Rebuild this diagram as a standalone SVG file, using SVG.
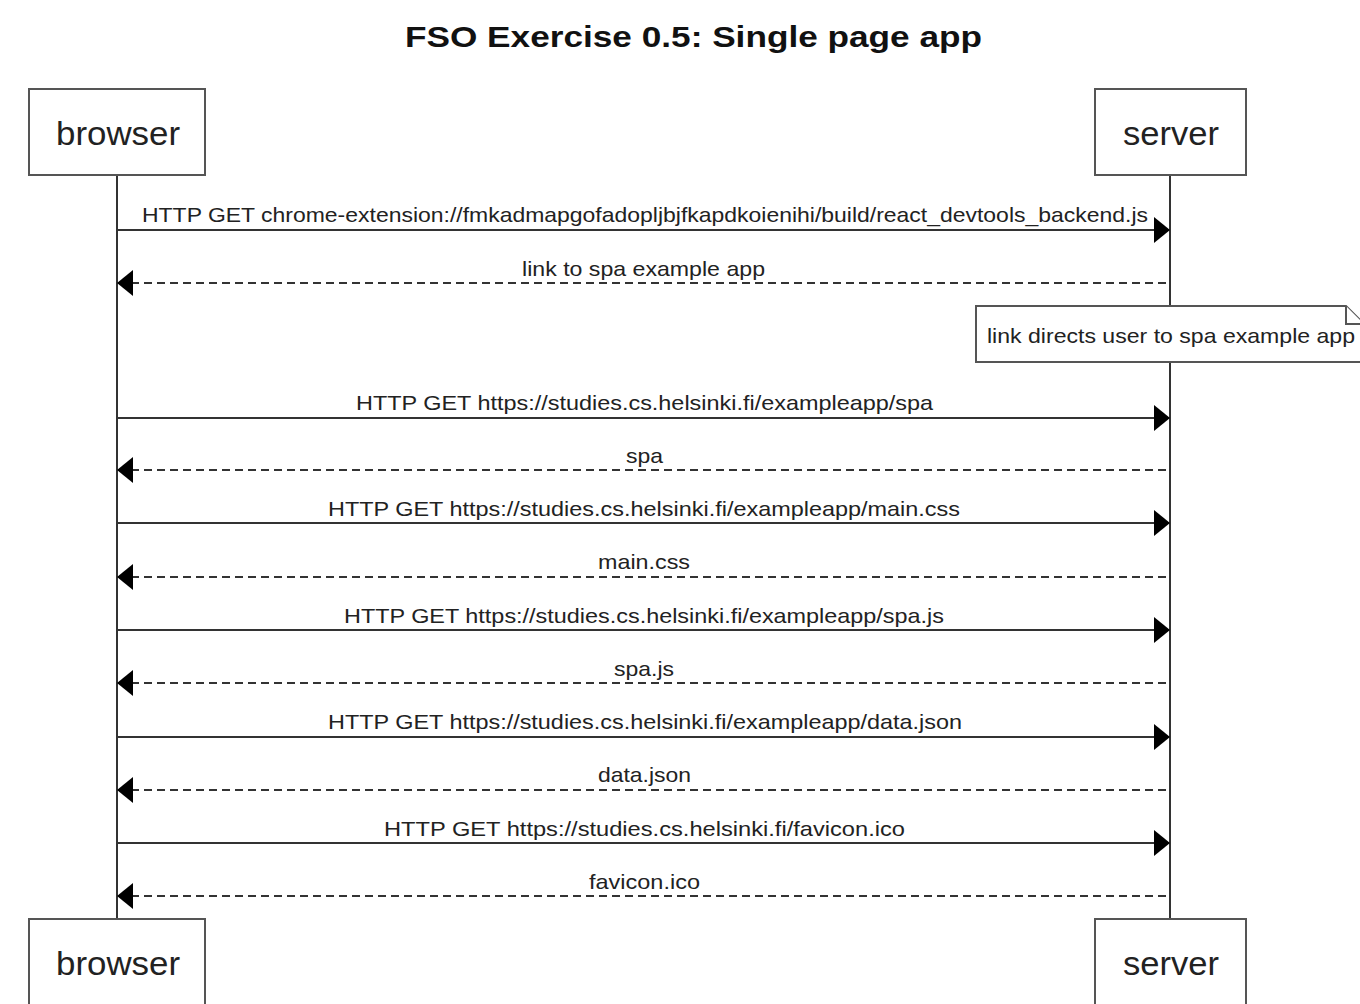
<svg xmlns="http://www.w3.org/2000/svg" width="1360" height="1004" viewBox="0 0 1360 1004">
  <style>
    .actor rect { fill: #ffffff; stroke: #555555; stroke-width: 2; }
    .actor text { font-family: "Liberation Sans", Arial, sans-serif; font-size: 33px; fill: #222222; text-anchor: middle; }
    .life { stroke: #333333; stroke-width: 2; }
    .msg { stroke: #333333; stroke-width: 2; fill: none; }
    .dash { stroke-dasharray: 8 5; }
    .lbl { font-family: "Liberation Sans", Arial, sans-serif; font-size: 21px; fill: #222222; text-anchor: middle; }
    .title { font-family: "Liberation Sans", Arial, sans-serif; font-size: 30px; font-weight: bold; fill: #111111; text-anchor: middle; }
    .note rect, .note path { fill: #ffffff; stroke: #555555; stroke-width: 2; }
  </style>
  <defs>
    <marker id="head" viewBox="0 0 16 26" refX="16" refY="13" markerWidth="16" markerHeight="26" markerUnits="userSpaceOnUse" orient="auto">
      <path d="M0,0 L16,13 L0,26 Z" fill="#000000"/>
    </marker>
  </defs>
  <rect width="1360" height="1004" fill="#ffffff"/>

  <text class="title" x="693.5" y="47" textLength="577" lengthAdjust="spacingAndGlyphs">FSO Exercise 0.5: Single page app</text>

  <!-- lifelines -->
  <g id="lifelines">
    <line class="life" x1="117" y1="175" x2="117" y2="919"/>
    <line class="life" x1="1170" y1="175" x2="1170" y2="919"/>
  </g>

  <!-- participants, top and bottom -->
  <g id="browser-top" class="actor">
    <rect x="29" y="89" width="176" height="86"/>
    <text x="118" y="145" textLength="124" lengthAdjust="spacingAndGlyphs">browser</text>
  </g>
  <g id="server-top" class="actor">
    <rect x="1095" y="89" width="151" height="86"/>
    <text x="1171" y="145" textLength="96" lengthAdjust="spacingAndGlyphs">server</text>
  </g>
  <g id="browser-bottom" class="actor">
    <rect x="29" y="919" width="176" height="86"/>
    <text x="118" y="975" textLength="124" lengthAdjust="spacingAndGlyphs">browser</text>
  </g>
  <g id="server-bottom" class="actor">
    <rect x="1095" y="919" width="151" height="86"/>
    <text x="1171" y="975" textLength="96" lengthAdjust="spacingAndGlyphs">server</text>
  </g>

  <!-- note over server -->
  <g id="note" class="note">
    <path d="M976,306 L1346,306 L1364,324 L1364,362 L976,362 Z"/>
    <path d="M1346,306 L1346,324 L1364,324" fill="none"/>
    <text class="lbl" x="1171" y="343" textLength="368" lengthAdjust="spacingAndGlyphs">link directs user to spa example app</text>
  </g>

  <!-- messages -->
  <g id="connectors">
    <line class="msg" x1="117" y1="230" x2="1170" y2="230" marker-end="url(#head)"/>
    <line class="msg dash" x1="1166" y1="283" x2="117" y2="283" marker-end="url(#head)"/>
    <line class="msg" x1="117" y1="418" x2="1170" y2="418" marker-end="url(#head)"/>
    <line class="msg dash" x1="1166" y1="470" x2="117" y2="470" marker-end="url(#head)"/>
    <line class="msg" x1="117" y1="523" x2="1170" y2="523" marker-end="url(#head)"/>
    <line class="msg dash" x1="1166" y1="577" x2="117" y2="577" marker-end="url(#head)"/>
    <line class="msg" x1="117" y1="630" x2="1170" y2="630" marker-end="url(#head)"/>
    <line class="msg dash" x1="1166" y1="683" x2="117" y2="683" marker-end="url(#head)"/>
    <line class="msg" x1="117" y1="737" x2="1170" y2="737" marker-end="url(#head)"/>
    <line class="msg dash" x1="1166" y1="790" x2="117" y2="790" marker-end="url(#head)"/>
    <line class="msg" x1="117" y1="843" x2="1170" y2="843" marker-end="url(#head)"/>
    <line class="msg dash" x1="1166" y1="896" x2="117" y2="896" marker-end="url(#head)"/>
  </g>

  <g id="labels">
    <text class="lbl" x="645" y="222" textLength="1006" lengthAdjust="spacingAndGlyphs">HTTP GET chrome-extension://fmkadmapgofadopljbjfkapdkoienihi/build/react_devtools_backend.js</text>
    <text class="lbl" x="643.5" y="276" textLength="243" lengthAdjust="spacingAndGlyphs">link to spa example app</text>
    <text class="lbl" x="644.5" y="410" textLength="577" lengthAdjust="spacingAndGlyphs">HTTP GET https://studies.cs.helsinki.fi/exampleapp/spa</text>
    <text class="lbl" x="644.5" y="463" textLength="37" lengthAdjust="spacingAndGlyphs">spa</text>
    <text class="lbl" x="644" y="516" textLength="632" lengthAdjust="spacingAndGlyphs">HTTP GET https://studies.cs.helsinki.fi/exampleapp/main.css</text>
    <text class="lbl" x="644" y="569" textLength="92" lengthAdjust="spacingAndGlyphs">main.css</text>
    <text class="lbl" x="644" y="623" textLength="600" lengthAdjust="spacingAndGlyphs">HTTP GET https://studies.cs.helsinki.fi/exampleapp/spa.js</text>
    <text class="lbl" x="644" y="676" textLength="60" lengthAdjust="spacingAndGlyphs">spa.js</text>
    <text class="lbl" x="645" y="729" textLength="634" lengthAdjust="spacingAndGlyphs">HTTP GET https://studies.cs.helsinki.fi/exampleapp/data.json</text>
    <text class="lbl" x="644.5" y="782" textLength="93" lengthAdjust="spacingAndGlyphs">data.json</text>
    <text class="lbl" x="644.5" y="836" textLength="521" lengthAdjust="spacingAndGlyphs">HTTP GET https://studies.cs.helsinki.fi/favicon.ico</text>
    <text class="lbl" x="644.5" y="889" textLength="111" lengthAdjust="spacingAndGlyphs">favicon.ico</text>
  </g>
</svg>
